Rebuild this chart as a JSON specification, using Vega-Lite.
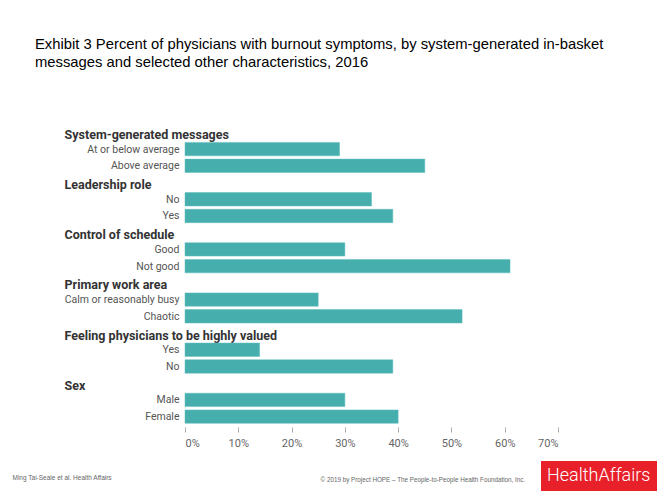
{
  "$schema": "https://vega.github.io/schema/vega-lite/v6.json",
  "autosize": "none",
  "width": 373,
  "height": 301,
  "padding": {"left": 185, "top": 124, "right": 101, "bottom": 69},
  "background": "white",
  "title": {
    "text": ["Exhibit 3 Percent of physicians with burnout symptoms, by system-generated in-basket", "messages and selected other characteristics, 2016"],
    "anchor": "start",
    "frame": "group",
    "dx": -150,
    "offset": 54,
    "font": "Liberation Sans",
    "fontSize": 14.8,
    "fontWeight": "normal",
    "color": "#000000",
    "lineHeight": 18
  },
  "config": {
    "view": {"stroke": null},
    "font": "Roboto"
  },
  "data": {
    "values": [
      {"row": "System-generated messages", "percent": null},
      {"row": "System-generated messages|At or below average", "percent": 29},
      {"row": "System-generated messages|Above average", "percent": 45},
      {"row": "Leadership role", "percent": null},
      {"row": "Leadership role|No", "percent": 35},
      {"row": "Leadership role|Yes", "percent": 39},
      {"row": "Control of schedule", "percent": null},
      {"row": "Control of schedule|Good", "percent": 30},
      {"row": "Control of schedule|Not good", "percent": 61},
      {"row": "Primary work area", "percent": null},
      {"row": "Primary work area|Calm or reasonably busy", "percent": 25},
      {"row": "Primary work area|Chaotic", "percent": 52},
      {"row": "Feeling physicians to be highly valued", "percent": null},
      {"row": "Feeling physicians to be highly valued|Yes", "percent": 14},
      {"row": "Feeling physicians to be highly valued|No", "percent": 39},
      {"row": "Sex", "percent": null},
      {"row": "Sex|Male", "percent": 30},
      {"row": "Sex|Female", "percent": 40}
    ]
  },
  "mark": {"type": "bar", "stroke": "#5fbcbc", "strokeWidth": 0.5},
  "encoding": {
    "y": {
      "field": "row",
      "type": "nominal",
      "sort": null,
      "scale": {
        "domain": [
          "System-generated messages", "System-generated messages|At or below average", "System-generated messages|Above average",
          "Leadership role", "Leadership role|No", "Leadership role|Yes",
          "Control of schedule", "Control of schedule|Good", "Control of schedule|Not good",
          "Primary work area", "Primary work area|Calm or reasonably busy", "Primary work area|Chaotic",
          "Feeling physicians to be highly valued", "Feeling physicians to be highly valued|Yes", "Feeling physicians to be highly valued|No",
          "Sex", "Sex|Male", "Sex|Female"
        ],
        "paddingInner": 0.2,
        "paddingOuter": 0.1
      },
      "axis": {
        "title": "Ming Tai-Seale et al. Health Affairs",
        "titleAngle": 0,
        "titleX": -173,
        "titleY": 353,
        "titleAlign": "left",
        "titleBaseline": "middle",
        "titleFont": "Liberation Sans",
        "titleFontSize": 6.5,
        "titleFontWeight": "normal",
        "titleColor": "#666666",
        "domain": false,
        "ticks": false,
        "grid": false,
        "labelBound": false,
        "labelLimit": 300,
        "labelExpr": "indexof(datum.value, '|') >= 0 ? split(datum.value, '|')[1] : datum.value",
        "labelAlign": {"condition": {"test": "indexof(datum.value, '|') < 0", "value": "left"}, "value": "right"},
        "labelPadding": {"condition": {"test": "indexof(datum.value, '|') < 0", "value": 121}, "value": 6},
        "labelOffset": {"condition": {"test": "indexof(datum.value, '|') < 0", "value": 2.5}, "value": 0.5},
        "labelFontWeight": {"condition": {"test": "indexof(datum.value, '|') < 0", "value": "bold"}, "value": "normal"},
        "labelFontSize": {"condition": {"test": "indexof(datum.value, '|') < 0", "value": 12.5}, "value": 10.5},
        "labelColor": {"condition": {"test": "indexof(datum.value, '|') < 0", "value": "#333333"}, "value": "#555555"}
      }
    },
    "x": {
      "field": "percent",
      "type": "quantitative",
      "scale": {"domain": [0, 70], "nice": false},
      "axis": {
        "title": "© 2019 by Project HOPE – The People-to-People Health Foundation, Inc.",
        "titleX": 135,
        "titleY": 52,
        "titleAnchor": "start",
        "titleAlign": "left",
        "titleBaseline": "middle",
        "titleFont": "Liberation Sans",
        "titleFontSize": 6.3,
        "titleFontWeight": "normal",
        "titleColor": "#666666",
        "values": [0, 10, 20, 30, 40, 50, 60, 70],
        "labelExpr": "datum.value + '%'",
        "domain": false,
        "grid": false,
        "ticks": true,
        "tickSize": 5,
        "tickColor": "#aaaaaa",
        "offset": 2,
        "labelPadding": 5,
        "labelFontSize": 11,
        "labelColor": "#666666"
      }
    },
    "color": {
      "datum": "Health Affairs",
      "type": "nominal",
      "scale": {"range": ["#46afae"]},
      "legend": {
        "orient": "none",
        "legendX": 356,
        "legendY": 337,
        "title": "HealthAffairs",
        "titleColor": "#ffffff",
        "titleFont": "Roboto",
        "titleFontWeight": 300,
        "titleFontSize": 18,
        "titlePadding": 0,
        "fillColor": "#e8202a",
        "padding": 6,
        "values": []
      }
    }
  }
}
